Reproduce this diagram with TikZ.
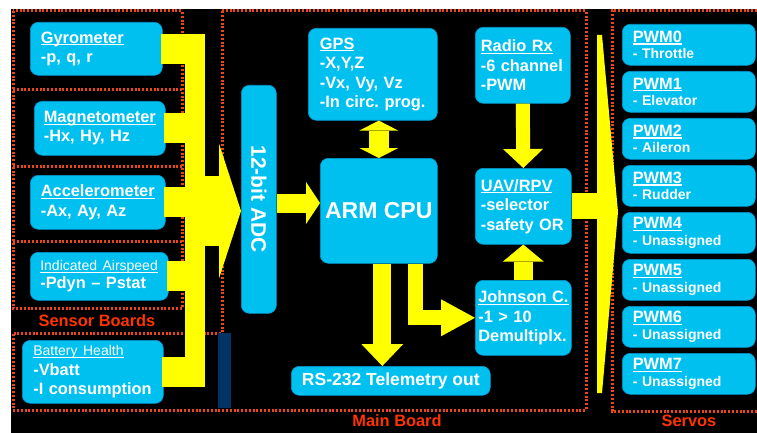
\documentclass[tikz,border=0pt]{standalone}
\usepackage{fontspec}
\setmainfont{Liberation Sans}
\usepackage{graphicx}
\usetikzlibrary{arrows.meta}

\definecolor{boxblue}{RGB}{0,192,240}
\definecolor{boxedge}{RGB}{0,150,205}
\definecolor{busyellow}{RGB}{255,255,0}
\definecolor{rope}{RGB}{235,70,25}
\definecolor{labelred}{RGB}{255,51,0}
\definecolor{navy}{RGB}{0,51,102}

\hyphenpenalty=10000
\frenchspacing
\newsavebox\headbox
\newcommand\boxhead[1]{\sbox\headbox{#1}\rlap{\rule[-2.3pt]{\wd\headbox}{1.2pt}}\usebox\headbox}

\begin{document}
\begin{tikzpicture}[x=1pt, y=-1pt,
	board/.style={draw=rope, line width=3pt, dash pattern=on 2pt off 1.8pt},
	blk/.style={fill=boxblue, draw=boxedge, line width=0.6pt, rounded corners=8pt, text=white, align=left,
		inner xsep=10.5pt, inner ysep=0pt, anchor=north west, font=\bfseries\fontsize{16.4}{19.5}\selectfont},
	pwm/.style={blk, text width=112pt, minimum height=41pt, font=\bfseries\fontsize{14}{16.5}\selectfont},
	pipe/.style={draw=busyellow, line width=#1},
	fat/.style n args={3}{draw=busyellow, line width=#1, ->, >={Triangle[width=#2, length=#3, line width=0pt]}},
	boardname/.style={text=labelred, font=\bfseries\fontsize{16.4}{18}\selectfont}]
	\useasboundingbox (0,0) rectangle (757,433);
	\fill[black] (11,9) rectangle (757,433);

	% board outlines
	\draw[board] (13,11) rectangle (182,308);
	\foreach \y in {90, 166, 241}
		\draw[board] (13,\y) -- (182,\y);
	\draw[board] (222,11) -- (586,11) -- (586,410) -- (13,410) -- (13,333) -- (222,333) -- cycle;
	\draw[board] (757,11) -- (612,11) -- (612,411) -- (757,411);
	\fill[navy] (218,333) rectangle (231,408);

	\node[boardname] (sensorlbl) at (97,321) {Sensor Boards};
	\node[boardname] (mainlbl) at (397,421) {Main Board};
	\node[boardname] (servolbl) at (689,421) {Servos};

	% sensors
	\node[blk, text width=111pt, minimum height=53pt] (gyro) at (30,22) {\boxhead{Gyrometer}\\-p, q, r};
	\node[blk, text width=112pt, inner xsep=9.5pt, minimum height=54pt] (magneto) at (34,101) {\boxhead{Magnetometer}\\-Hx, Hy, Hz};
	\node[blk, text width=114pt, minimum height=54pt] (accel) at (30,175) {\boxhead{Accelerometer}\\-Ax, Ay, Az};
	\node[blk, text width=118pt, inner xsep=10pt, minimum height=48pt, font=\bfseries\fontsize{16.4}{18}\selectfont] (airspeed) at (30,252)
		{{\mdseries\fontsize{14}{16}\selectfont\boxhead{Indicated Airspeed}}\\-Pdyn – Pstat};
	\node[blk, inner xsep=11pt, text width=119pt, minimum height=63pt] (battery) at (22,340)
		{{\mdseries\fontsize{14}{16}\selectfont\boxhead{Battery Health}}\\-Vbatt\\-I consumption};

	% main board
	\node[blk, minimum width=35pt, minimum height=228pt, inner xsep=0pt, align=center,
		font=\bfseries\fontsize{21}{24}\selectfont] (adc) at (241,85) {\rotatebox{-90}{12-bit ADC}};
	\node[blk, inner xsep=11.5pt, text width=106pt, minimum height=92pt] (gps) at (308,28)
		{\boxhead{GPS}\\-X,Y,Z\\-Vx, Vy, Vz\\-In circ. prog.};
	\node[blk, minimum width=117pt, minimum height=105pt, inner xsep=0pt, align=center,
		font=\bfseries\fontsize{23}{26}\selectfont] (cpu) at (320,158) {ARM CPU};
	\node[blk, inner xsep=5.5pt, text width=84pt, minimum height=76pt] (radio) at (475,27)
		{\boxhead{Radio Rx}\\-6 channel\\-PWM};
	\node[blk, inner xsep=5.5pt, text width=85pt, minimum height=76pt] (uav) at (475,168)
		{\boxhead{UAV/RPV}\\-selector\\-safety OR};
	\node[blk, inner xsep=3pt, text width=90pt, minimum height=75pt] (johnson) at (475,280)
		{\boxhead{Johnson C.}\\-1 > 10\\Demultiplx.};
	\node[blk, minimum width=199pt, minimum height=29pt, inner xsep=0pt, align=center,
		font=\bfseries\fontsize{17.5}{20}\selectfont] (rs) at (291,366) {RS-232 Telemetry out};

	% servos
	\foreach \i/\job in {0/Throttle, 1/Elevator, 2/Aileron, 3/Rudder, 4/Unassigned, 5/Unassigned, 6/Unassigned, 7/Unassigned}
		\node[pwm] (pwm\i) at (622,{24+47*\i}) {{\fontsize{16.4}{17}\selectfont\boxhead{PWM\i}}\\- \job};

	% sensor bus
	\coordinate (bustop) at (195,34);
	\coordinate (busbot) at (195,387);
	\coordinate (busout) at (200,211);
	\foreach \s in {gyro, magneto, accel, airspeed, battery}
		\draw[pipe=30pt] ([xshift=-2pt]\s.east) -- (\s.east -| bustop);
	\draw[pipe=20pt] (bustop) -- (busbot);
	\draw[fat={70pt}{135pt}{22pt}] (busout) -- (busout -| adc.west);

	% main board arrows
	\coordinate (adcout) at (adc.east |- 0,203);
	\draw[fat={19pt}{42pt}{14pt}] (adcout) -- (adcout -| cpu.west);
	\draw[fat={20pt}{39pt}{10pt}, <->] (gps.south -| cpu.north) -- (cpu.north);
	\draw[fat={14pt}{40pt}{19pt}] (radio.south) -- (uav.north);
	\draw[fat={19pt}{41pt}{17pt}] (johnson.north) -- (uav.south);
	\draw[fat={18pt}{42pt}{22pt}] ([xshift=3.5pt]cpu.south) -- ([xshift=3.5pt]cpu.south |- rs.north);
	\draw[fat={15pt}{37pt}{34pt}, line join=miter] ([xshift=37pt]cpu.south) |- (johnson.west);

	% out to servos
	\coordinate (fantop) at (597,35);
	\coordinate (fanbot) at (597,393);
	\coordinate (fantip) at (618,212);
	\fill[busyellow] (fantop) -- ++(5,0) -- (fantip) -- ([xshift=5pt]fanbot) -- (fanbot) -- cycle;
	\draw[pipe=26pt] (uav.east) -- ([xshift=8pt]uav.east -| fantop);
\end{tikzpicture}
\end{document}
